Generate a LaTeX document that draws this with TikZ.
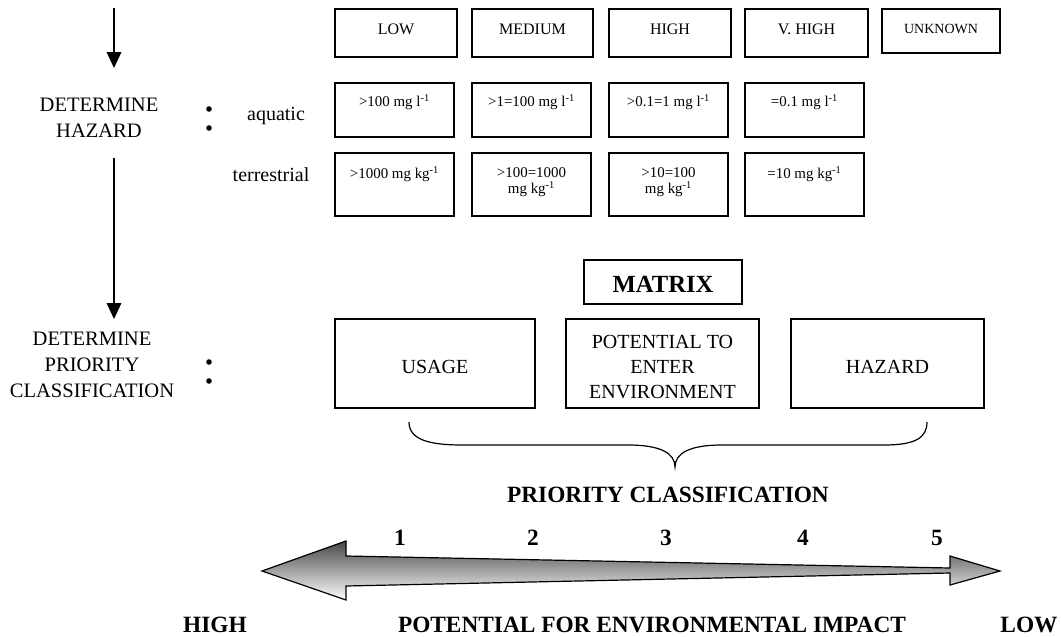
\documentclass[tikz,border=0pt]{standalone}
\usepackage{fontspec}
\setmainfont{Liberation Serif}
\usetikzlibrary{arrows.meta,fit}
\newcommand{\perunit}{\textsuperscript{-1}}
\begin{document}
\begin{tikzpicture}[x=0.75pt,y=-0.75pt,
  box/.style={draw,line width=0.9pt,inner sep=0pt},
  stage/.style={inner sep=0pt,align=center,font=\fontsize{15.4}{19.5}\selectfont},
  medium/.style={inner sep=0pt,font=\fontsize{15}{18}\selectfont},
  grade/.style={inner sep=0pt,font=\fontsize{12}{14}\selectfont},
  conc/.style={inner sep=0pt,align=center,font=\fontsize{11.2}{12.4}\selectfont},
  factor/.style={inner sep=0pt,align=center,font=\fontsize{15}{18.4}\selectfont},
  heading/.style={inner sep=0pt,font=\fontsize{17.5}{20}\selectfont\bfseries},
  flow/.style={line width=0.9pt,-{Triangle[width=11pt,length=12pt]}},
  dot/.style={circle,fill,inner sep=0pt,minimum size=4.2pt}
]
\useasboundingbox (0,0) rectangle (1061,636);

% process arrows on the left
\coordinate (a1s) at (114,8);
\coordinate (a1e) at (114,68);
\coordinate (a2s) at (114,158);
\coordinate (a2e) at (114,319);
\draw[flow] (a1s) -- (a1e);
\draw[flow] (a2s) -- (a2e);

% stage labels
\node[stage] (dhaz) at (99,118) {DETERMINE\\HAZARD};
\node[stage] (dpri) at (92,365) {DETERMINE\\PRIORITY\\CLASSIFICATION};
\node[dot] (b1) at (209,109) {};
\node[dot] (b2) at (209,128) {};
\node[dot] (b3) at (209,362) {};
\node[dot] (b4) at (209,381) {};
\node[medium] (aq) at (276,116) {aquatic};
\node[medium] (te) at (271,175) {terrestrial};

% hazard grades
\node[box,fit={(335,9)(457,57)}] (gLow) {};
\node[box,fit={(472,9)(593,57)}] (gMed) {};
\node[box,fit={(609,9)(731,57)}] (gHigh) {};
\node[box,fit={(745,9)(868,57)}] (gVHigh) {};
\node[box,fit={(882,9)(1000,53)}] (gUnk) {};
\node[grade] at (gLow.center |- 0,29) {LOW};
\node[grade] at (gMed.center |- 0,29) {MEDIUM};
\node[grade] at (gHigh.center |- 0,29) {HIGH};
\node[grade] at (gVHigh.center |- 0,29) {V. HIGH};
\node[grade,font=\fontsize{10.5}{12}\selectfont] at (gUnk.center |- 0,29) {UNKNOWN};

% aquatic thresholds
\node[box,fit={(335,83)(454,137)}] (aLow) {};
\node[box,fit={(472,83)(591,137)}] (aMed) {};
\node[box,fit={(609,83)(728,137)}] (aHigh) {};
\node[box,fit={(745,83)(864,137)}] (aVHigh) {};
\node[conc] at (aLow.center |- 0,102) {>100 mg l\perunit};
\node[conc] at (aMed.center |- 0,102) {>1=100 mg l\perunit};
\node[conc] at (aHigh.center |- 0,102) {>0.1=1 mg l\perunit};
\node[conc] at (aVHigh.center |- 0,102) {=0.1 mg l\perunit};

% terrestrial thresholds
\node[box,fit={(335,153)(454,216)}] (tLow) {};
\node[box,fit={(472,153)(591,216)}] (tMed) {};
\node[box,fit={(609,153)(728,216)}] (tHigh) {};
\node[box,fit={(745,153)(864,216)}] (tVHigh) {};
\node[conc] at (tLow.center |- 0,174) {>1000 mg kg\perunit};
\node[conc] at (tMed.center |- 0,182) {>100=1000\\mg kg\perunit};
\node[conc] at (tHigh.center |- 0,182) {>10=100\\mg kg\perunit};
\node[conc] at (tVHigh.center |- 0,174) {=10 mg kg\perunit};

% priority matrix
\node[box,fit={(584,260)(742,304)}] (matrix) {};
\node[heading,font=\fontsize{18.5}{20}\selectfont\bfseries] at (matrix.center |- 0,284) {MATRIX};
\node[box,fit={(335,319)(535,408)}] (usage) {};
\node[box,fit={(566,319)(759,408)}] (enter) {};
\node[box,fit={(791,319)(984,408)}] (hazard) {};
\node[factor] at (usage.center |- 0,367) {USAGE};
\node[factor] at (enter.center |- 0,367) {POTENTIAL TO\\ENTER\\ENVIRONMENT};
\node[factor] at (hazard.center |- 0,367) {HAZARD};

% brace gathering the three factors
\draw[line width=0.9pt] (409,422) .. controls (409,440) and (430,445) .. (462,445)
  -- (628,445) .. controls (660,445) and (675,453) .. (675,467)
  .. controls (675,453) and (690,445) .. (722,445)
  -- (884,445) .. controls (915,445) and (927,438) .. (927,422);

\node[heading] (pc) at (668,495) {PRIORITY CLASSIFICATION};
\node[heading] (p1) at (400,538) {1};
\node[heading] (p2) at (533,538) {2};
\node[heading] (p3) at (666,538) {3};
\node[heading] (p4) at (803,538) {4};
\node[heading] (p5) at (937,538) {5};

% scale arrow
\shade[draw,line width=0.9pt,top color=black!72,bottom color=white]
  (262,571) -- (346,541) -- (346,556) -- (950,568) -- (950,556) -- (1000,571)
  -- (950,585) -- (950,573) -- (346,586) -- (346,600) -- cycle;

\node[heading] (hi) at (215,625) {HIGH};
\node[heading] (pfe) at (652,625) {POTENTIAL FOR ENVIRONMENTAL IMPACT};
\node[heading] (lo) at (1029,625) {LOW};
\end{tikzpicture}
\end{document}
